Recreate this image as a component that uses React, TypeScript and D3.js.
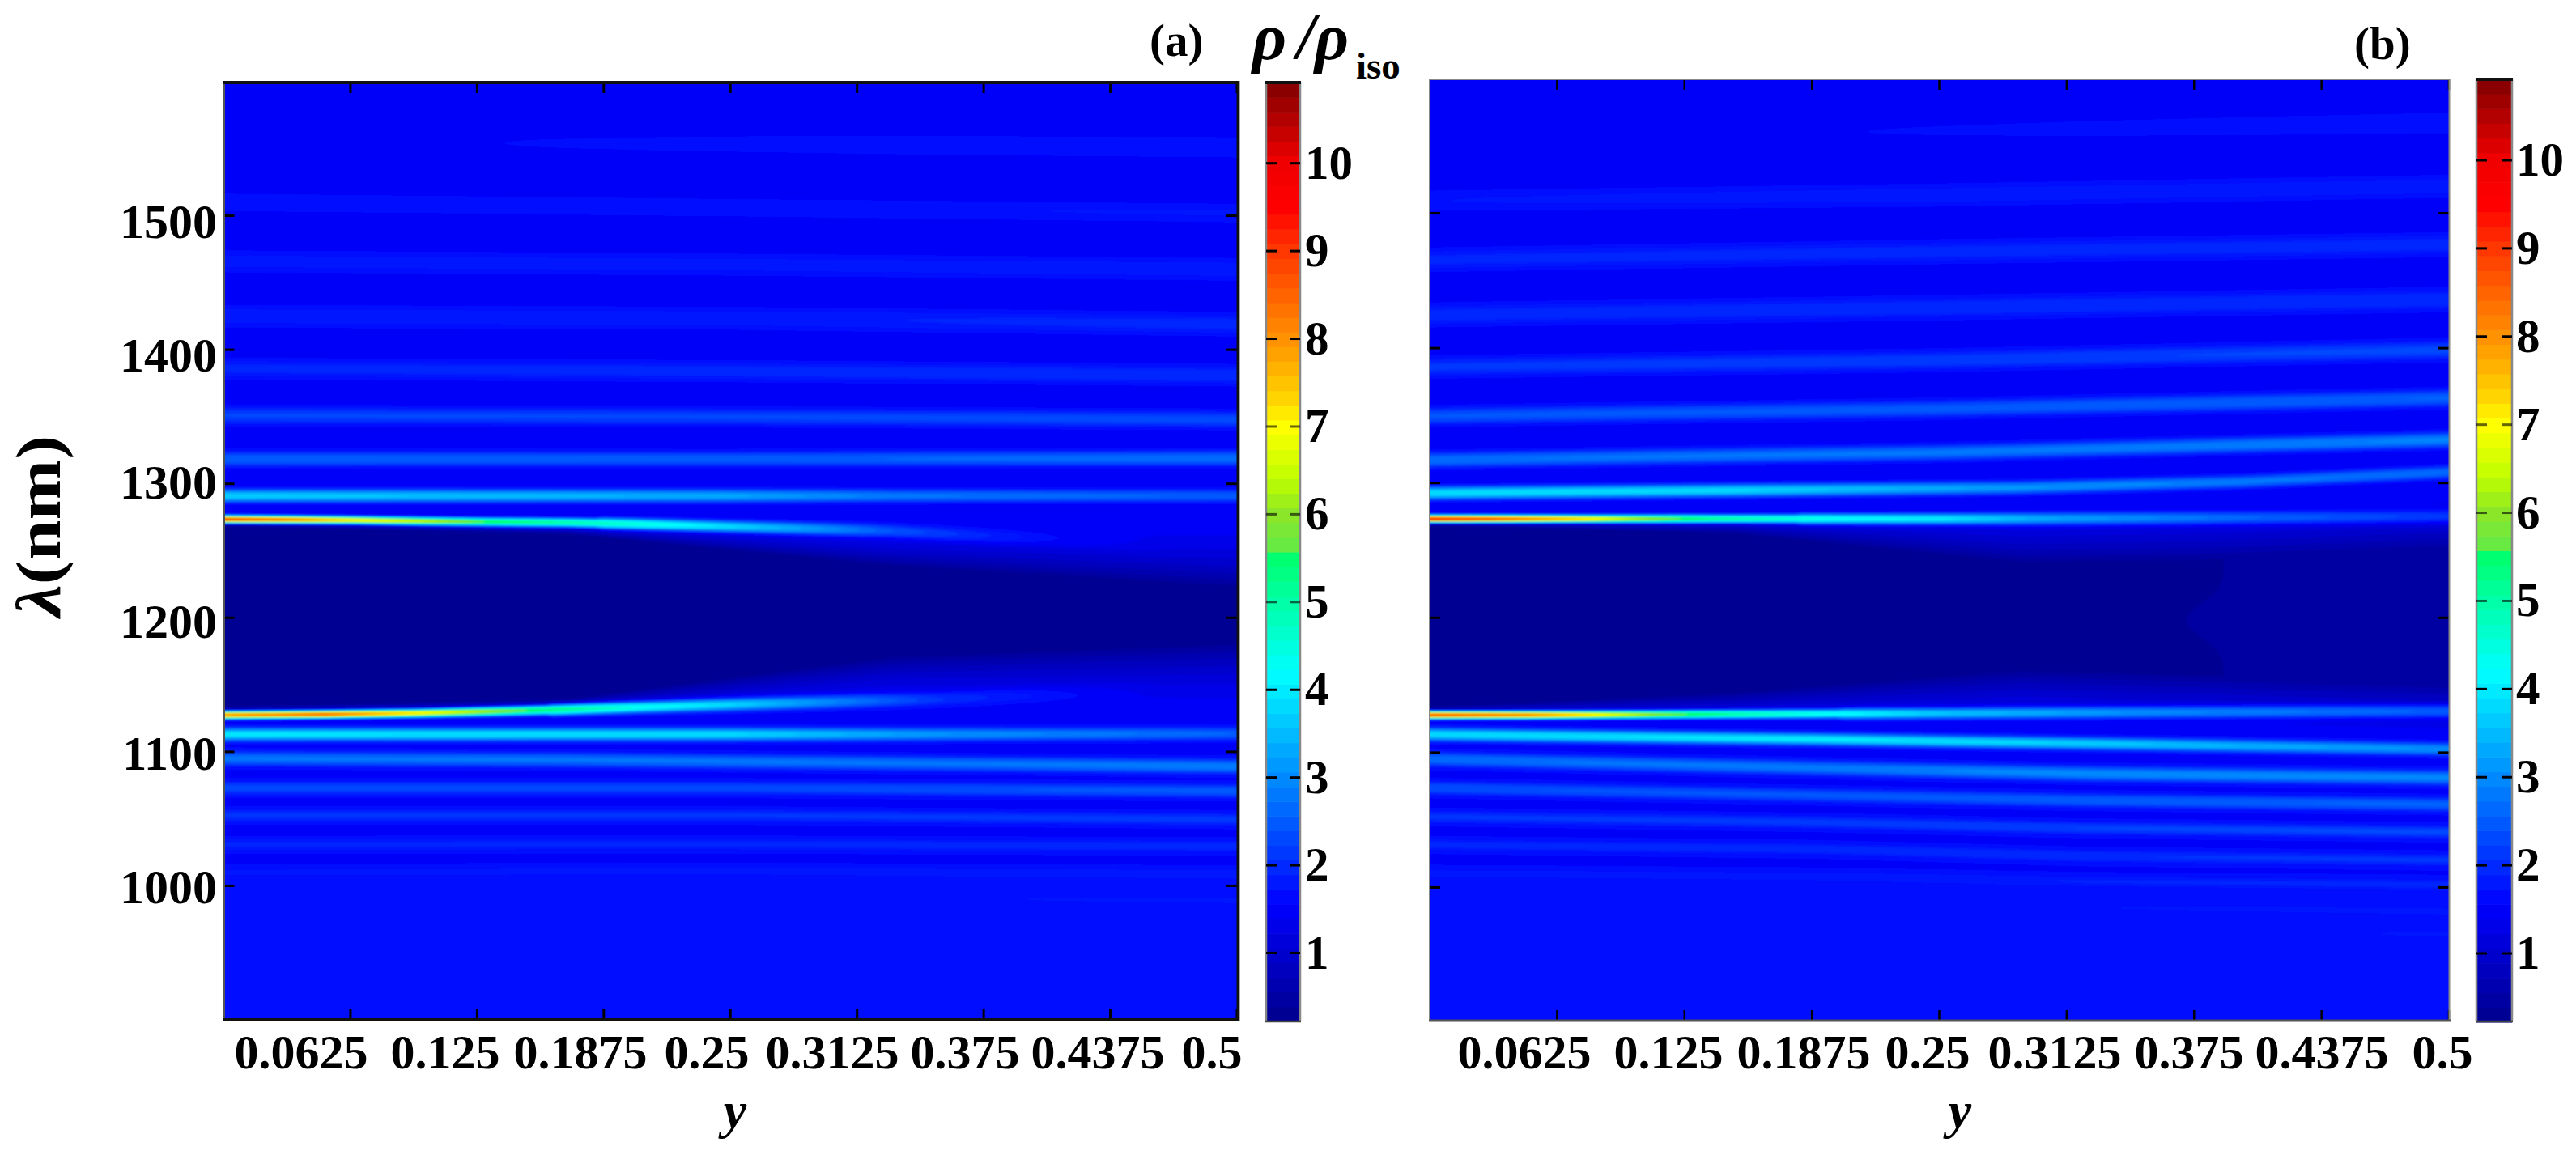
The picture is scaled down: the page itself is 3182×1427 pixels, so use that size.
import React, { useMemo } from "react";
import * as d3 from "d3";

type Band = { at: number[]; lam: number[]; peak: number[]; sd: number[] };

const WIDTH = 3182;
const HEIGHT = 1427;
const SERIF = "'Liberation Serif', 'Times New Roman', serif";

const xTickValues = [0.0625, 0.125, 0.1875, 0.25, 0.3125, 0.375, 0.4375, 0.5];
const xTickLabels = ["0.0625", "0.125", "0.1875", "0.25", "0.3125", "0.375", "0.4375", "0.5"];
const yTickValues = [1000, 1100, 1200, 1300, 1400, 1500];
const barTickValues = [1, 2, 3, 4, 5, 6, 7, 8, 9, 10];
const VALUE_MIN = 0.22;
const VALUE_MAX = 10.92;
const LEVELS = 64;

// colour map of the bars
const mapValues = [0.22, 1.56, 4.2, 5.6, 5.61, 6.0, 6.4, 7.0, 7.3, 8.0, 9.0, 9.5, 10.0, 10.92];
const mapColors = [
  "rgb(0,0,140)", "rgb(0,0,255)", "rgb(0,255,255)", "rgb(0,255,100)", "rgb(100,235,70)",
  "rgb(140,230,40)", "rgb(190,255,0)", "rgb(255,255,0)", "rgb(255,215,0)", "rgb(255,145,0)",
  "rgb(255,55,0)", "rgb(255,0,0)", "rgb(240,0,0)", "rgb(128,0,0)",
];

// background level outside the band gap, by wavelength
const baseLam = [900, 1000, 1100, 1300, 1600];
const baseVal = [1.6, 1.56, 1.5, 1.45, 1.47];

// band gap of panel (a)
const gapAtA = [0, 0.17, 0.33, 0.5];
const gapTopOuterA = [1276, 1272, 1268, 1272];
const gapTopInnerA = [1268, 1262, 1238, 1222];
const gapBotInnerA = [1134, 1140, 1172, 1182];
const gapBotOuterA = [1124, 1126, 1132, 1126];
const gapLowA = [0.28, 0.28, 0.28, 0.3];

// band gap of panel (b)
const gapAtB = [0, 0.15, 0.29, 0.38, 0.5];
const gapTopOuterB = [1276, 1280, 1285, 1289, 1295];
const gapTopInnerB = [1268, 1262, 1240, 1243, 1252];
const gapBotInnerB = [1134, 1145, 1162, 1157, 1150];
const gapBotOuterB = [1124, 1120, 1115, 1110, 1105];
const gapLowB = [0.28, 0.29, 0.3, 0.38, 0.47];
const notchAtB = [0.3, 0.36, 0.45, 0.5];
const notchAmpB = [0, 0.015, 0.015, 0];

const bandsA: Band[] = [
  { at: [0, 0.25, 0.35, 0.5], lam: [1555, 1553.5, 1552.5, 1551], peak: [1.48, 1.62, 1.68, 1.72], sd: [5] },
  { at: [0, 0.25, 0.5], lam: [1510, 1506, 1502], peak: [1.7, 1.7, 1.74], sd: [4.5] },
  { at: [0, 0.25, 0.5], lam: [1466, 1463.5, 1460], peak: [1.8, 1.8, 1.84], sd: [5] },
  { at: [0, 0.25, 0.5], lam: [1425, 1423.5, 1419], peak: [1.85, 1.85, 1.97], sd: [5] },
  { at: [0, 0.25, 0.5], lam: [1386, 1384, 1381], peak: [1.94, 1.98, 2.03], sd: [4.5] },
  { at: [0, 0.25, 0.5], lam: [1351, 1350, 1348], peak: [2.25, 2.25, 2.3], sd: [4] },
  { at: [0, 0.25, 0.5], lam: [1318.5, 1318.5, 1319], peak: [2.55, 2.5, 2.7], sd: [3.6] },
  { at: [0, 0.17, 0.25, 0.33, 0.38, 0.5], lam: [1291, 1291, 1291, 1291, 1291, 1291], peak: [3.7, 3.45, 3.3, 2.8, 2.7, 2.5], sd: [3] },
  { at: [0, 0.03, 0.0625, 0.1, 0.13, 0.17, 0.2, 0.25, 0.3, 0.33, 0.41, 0.5], lam: [1273.4, 1273.2, 1272.8, 1272, 1271.5, 1271, 1270, 1268, 1266, 1264.6, 1258, 1250], peak: [8.8, 8.3, 7.2, 6.4, 5.55, 5.0, 4.6, 3.8, 3.0, 2.4, 1.55, 1.1], sd: [1.9, 1.9, 1.9, 2, 2.1, 2.3, 2.5, 2.7, 3, 3.2, 3.6, 3.9] },
  { at: [0, 0.05, 0.096, 0.16, 0.207, 0.255, 0.35, 0.42, 0.5], lam: [1127.5, 1128, 1128.9, 1131.3, 1133.5, 1135.6, 1139.4, 1143.8, 1148.6], peak: [8.0, 8.5, 7.1, 5.3, 4.3, 3.7, 2.1, 1.55, 1.05], sd: [1.9, 1.9, 2, 2.4, 2.7, 3, 3.4, 3.7, 3.9] },
  { at: [0, 0.25, 0.35, 0.5], lam: [1113, 1113, 1113, 1113.5], peak: [3.95, 3.8, 3.1, 2.55], sd: [3] },
  { at: [0, 0.17, 0.37, 0.5], lam: [1095, 1094, 1091, 1089], peak: [2.75, 2.75, 2.75, 2.85], sd: [3.4] },
  { at: [0, 0.25, 0.5], lam: [1073, 1073, 1070.7], peak: [2.28, 2.28, 2.48], sd: [3.2] },
  { at: [0, 0.25, 0.5], lam: [1052.6, 1052.6, 1049.5], peak: [2.08, 2.08, 2.13], sd: [3] },
  { at: [0, 0.25, 0.5], lam: [1030.8, 1031, 1029.5], peak: [1.92, 1.94, 2.0], sd: [2.8] },
  { at: [0, 0.25, 0.5], lam: [1010, 1011, 1008.5], peak: [1.76, 1.78, 1.86], sd: [2.6] },
  { at: [0, 0.1, 0.25, 0.5], lam: [991, 991, 991, 989], peak: [1.6, 1.64, 1.68, 1.76], sd: [2.4] },
  { at: [0, 0.35, 0.5], lam: [971, 971, 970], peak: [1.58, 1.6, 1.7], sd: [2.4] },
];

const bandsB: Band[] = [
  { at: [0, 0.27, 0.5], lam: [1556, 1561.7, 1567], peak: [1.47, 1.58, 1.72], sd: [5] },
  { at: [0, 0.25, 0.5], lam: [1509.3, 1513.5, 1520], peak: [1.72, 1.84, 1.84], sd: [5] },
  { at: [0, 0.25, 0.5], lam: [1465.5, 1471.5, 1476.8], peak: [1.94, 1.98, 1.98], sd: [5] },
  { at: [0, 0.25, 0.5], lam: [1424.6, 1430, 1436], peak: [1.98, 2.03, 2.03], sd: [5] },
  { at: [0, 0.25, 0.5], lam: [1386, 1391, 1398.7], peak: [2.1, 2.18, 2.28], sd: [4.5] },
  { at: [0, 0.25, 0.5], lam: [1349.6, 1355, 1363], peak: [2.42, 2.47, 2.57], sd: [4] },
  { at: [0, 0.25, 0.5], lam: [1317, 1322.5, 1332], peak: [2.72, 2.77, 2.92], sd: [3.6] },
  { at: [0, 0.15, 0.29, 0.4, 0.5], lam: [1292.5, 1294.5, 1296.5, 1301, 1308], peak: [3.9, 3.8, 3.1, 2.8, 2.65], sd: [3] },
  { at: [0, 0.03, 0.075, 0.1, 0.14, 0.2, 0.25, 0.3, 0.4, 0.5], lam: [1273.3, 1273.3, 1273.3, 1273.3, 1273.3, 1273.3, 1273.3, 1273.4, 1274, 1275], peak: [9.2, 8.7, 7.3, 6.3, 5.1, 4.25, 4.0, 3.3, 2.6, 2.1], sd: [1.9, 1.9, 1.9, 2, 2.2, 2.5, 2.6, 2.9, 3.1, 3.3] },
  { at: [0, 0.05, 0.075, 0.11, 0.15, 0.2, 0.25, 0.35, 0.5], lam: [1128, 1128, 1128.1, 1128.3, 1128.6, 1128.9, 1129.2, 1130, 1131], peak: [8.6, 8.1, 7.3, 6.0, 5.0, 4.25, 3.6, 3.0, 2.5], sd: [1.9, 1.9, 1.9, 2, 2.2, 2.4, 2.6, 2.9, 3.1] },
  { at: [0, 0.19, 0.32, 0.5], lam: [1113.5, 1109.9, 1106.8, 1102.5], peak: [3.8, 4.0, 3.7, 3.0], sd: [3, 2.8, 2.8, 3] },
  { at: [0, 0.19, 0.32, 0.5], lam: [1095.2, 1088.6, 1084.4, 1081.4], peak: [2.7, 2.8, 3.0, 2.95], sd: [3.4] },
  { at: [0, 0.19, 0.32, 0.5], lam: [1073.8, 1068.4, 1064.6, 1061.5], peak: [2.38, 2.43, 2.53, 2.58], sd: [3.2] },
  { at: [0, 0.19, 0.32, 0.5], lam: [1052.5, 1048.3, 1044, 1041], peak: [2.08, 2.13, 2.23, 2.28], sd: [3] },
  { at: [0, 0.19, 0.32, 0.5], lam: [1031.7, 1028.5, 1023.3, 1020.3], peak: [1.95, 2.0, 2.05, 2.1], sd: [2.8] },
  { at: [0, 0.19, 0.32, 0.5], lam: [1010.4, 1008.2, 1004.4, 1002], peak: [1.78, 1.82, 1.9, 1.95], sd: [2.6] },
  { at: [0, 0.19, 0.32, 0.5], lam: [991, 988.2, 985.2, 982.2], peak: [1.58, 1.65, 1.72, 1.78], sd: [2.4] },
  { at: [0, 0.3, 0.4, 0.5], lam: [968, 967, 966, 965.4], peak: [1.58, 1.6, 1.66, 1.76], sd: [2.4] },
];

const colorOf = d3.scaleLinear<string>().domain(mapValues).range(mapColors).interpolate(d3.interpolateRgb).clamp(true);
const levelStep = (VALUE_MAX - VALUE_MIN) / LEVELS;
const levelValues = d3.range(LEVELS).map((i) => VALUE_MIN + i * levelStep);
const levelColor = (t: number) => colorOf(t + levelStep / 2);

const tbl = (xs: number[], ys: number[]) => d3.scaleLinear().domain(xs).range(ys).clamp(true);
const riseFast = (t: number) => {
  const u = Math.max(0, Math.min(1, t));
  return 1 - Math.pow(1 - u, 1.8);
};

type Gap = { at: number[]; topOuter: number[]; topInner: number[]; botInner: number[]; botOuter: number[]; low: number[]; notchAt?: number[]; notchAmp?: number[] };

function buildPaths(bands: Band[], gap: Gap, xS: any, yS: any) {
  const NX = 126;
  const lamTop = 1606;
  const lamBot = 894;
  const dL = 0.5;
  const NY = Math.round((lamTop - lamBot) / dL);
  const y0 = -0.006;
  const dY = (0.506 + 0.006) / NX;
  const values = new Float64Array(NX * NY);

  const tO = tbl(gap.at, gap.topOuter), tI = tbl(gap.at, gap.topInner);
  const bI = tbl(gap.at, gap.botInner), bO = tbl(gap.at, gap.botOuter), lo = tbl(gap.at, gap.low);
  const baseS = tbl(baseLam, baseVal);
  const notch = gap.notchAt && gap.notchAmp ? tbl(gap.notchAt, gap.notchAmp) : null;
  const tables = bands.map((b) => ({
    lam: tbl(b.at, b.lam),
    peak: tbl(b.at, b.peak),
    sd: b.sd.length > 1 ? tbl(b.at, b.sd) : () => b.sd[0],
  }));

  for (let i = 0; i < NX; i++) {
    const y = y0 + (i + 0.5) * dY;
    const a = tO(y), b = tI(y), c = bI(y), d = bO(y), low = lo(y), na = notch ? notch(y) : 0;
    const floorAt = (l: number) => {
      const base = baseS(l);
      if (l >= a || l <= d) return base;
      if (l >= c && l <= b) return low;
      const t = l > b ? riseFast((l - b) / (a - b)) : riseFast((c - l) / (c - d));
      return low + (base - low) * t;
    };
    const now = tables.map((t) => {
      const lam = t.lam(y);
      const s = t.sd(y) as number;
      return { lam, sd: s >= 2.4 ? s * 1.15 : s, amp: Math.max(0, t.peak(y) - floorAt(lam)) };
    });
    for (let j = 0; j < NY; j++) {
      const l = lamTop - (j + 0.5) * dL;
      let v = floorAt(l);
      if (na) {
        const n = (l - 1198) / 12;
        v += na * Math.exp(-0.5 * n * n);
      }
      for (const s of now) {
        const z = Math.abs(l - s.lam) / s.sd;
        if (z < 5) v += s.amp * Math.exp(-0.5 * Math.pow(z, 2.4));
      }
      values[j * NX + i] = v;
    }
  }

  const contours = d3.contours().size([NX, NY]).thresholds(levelValues).smooth(true)(values as any);
  const proj = d3.geoTransform({
    point(px: number, py: number) {
      (this as any).stream.point(xS(y0 + px * dY), yS(lamTop - py * dL));
    },
  });
  const path = d3.geoPath(proj);
  return contours.filter((c) => c.coordinates.length > 0).map((c) => ({ t: c.value, d: path(c as any) || "" }));
}

function Heatmap({ id, bands, gap, xS, yS, clip }: any) {
  const paths = useMemo(() => buildPaths(bands, gap, xS, yS), []);
  return (
    <g clipPath={`url(#${id})`}>
      <defs>
        <clipPath id={id}>
          <rect x={clip[0]} y={clip[1]} width={clip[2] - clip[0]} height={clip[3] - clip[1]} />
        </clipPath>
      </defs>
      <g filter="url(#soft)">
        {paths.map((p) => (
          <path key={p.t} d={p.d} fill={levelColor(p.t)} fillRule="evenodd" />
        ))}
      </g>
    </g>
  );
}

function Frame({ xS, yS, x0, x1, y0, y1, tickW, frame }: any) {
  return (
    <g stroke="#000" fill="none">
      {xTickValues.map((v) => (
        <g key={v} strokeWidth={tickW}>
          <line x1={xS(v)} x2={xS(v)} y1={y1} y2={y1 - 13} />
          <line x1={xS(v)} x2={xS(v)} y1={y0} y2={y0 + 13} />
        </g>
      ))}
      {yTickValues.map((v) => (
        <g key={v} strokeWidth={3}>
          <line x1={x0} x2={x0 + 13} y1={yS(v)} y2={yS(v)} />
          <line x1={x1} x2={x1 - 13} y1={yS(v)} y2={yS(v)} />
        </g>
      ))}
      {frame}
    </g>
  );
}

function ColorBar({ x0, x1, barS, top, bottom, labelX, blackTop }: any) {
  return (
    <g>
      {levelValues.map((t) => (
        <rect key={t} x={x0} width={x1 - x0} y={barS(t + levelStep)} height={barS(t) - barS(t + levelStep) + 0.6} fill={levelColor(t)} />
      ))}
      <g stroke="#888" strokeWidth={2.5} fill="none">
        <line x1={x0} x2={x0} y1={top} y2={bottom} />
        <line x1={x1} x2={x1} y1={top} y2={bottom} />
      </g>
      <line x1={x0 - 1} x2={x1 + 1} y1={top + 1} y2={top + 1} stroke="#111" strokeWidth={blackTop} />
      <line x1={x0 - 1} x2={x1 + 1} y1={bottom} y2={bottom} stroke="#444" strokeWidth={2.5} />
      {barTickValues.map((v) => (
        <g key={v}>
          <g stroke="#000" strokeOpacity={v === 5 || v === 6 || v === 7 ? 0.6 : 1} strokeWidth={3}>
            <line x1={x0} x2={x0 + 13} y1={barS(v)} y2={barS(v)} />
            <line x1={x1} x2={x1 - 13} y1={barS(v)} y2={barS(v)} />
          </g>
          <text x={labelX} y={barS(v) + 19} fontFamily={SERIF} fontWeight="bold" fontSize={59} fill="#000">{v}</text>
        </g>
      ))}
    </g>
  );
}

const xLabelCentersA = [372, 550, 717, 873, 1028, 1192, 1356, 1497];
const xLabelCentersB = [1883, 2061, 2228, 2381, 2538, 2704, 2868, 3017];
const yLabelNudge = [22, 22, 25, 18, 27, 27];

export default function App() {
  const xA = d3.scaleLinear().domain([0, 0.5]).range([276.5, 1528]);
  const yA = d3.scaleLinear().domain([900, 1600]).range([1260, 101]);
  const xB = d3.scaleLinear().domain([0, 0.5]).range([1766, 3025]);
  const yB = d3.scaleLinear().domain([900, 1600]).range([1263, 97]);
  const barA = d3.scaleLinear().domain([1, 10]).range([1177.5, 201.7]);
  const barB = d3.scaleLinear().domain([1, 10]).range([1178, 198]);
  const gapA: Gap = { at: gapAtA, topOuter: gapTopOuterA, topInner: gapTopInnerA, botInner: gapBotInnerA, botOuter: gapBotOuterA, low: gapLowA };
  const gapB: Gap = { at: gapAtB, topOuter: gapTopOuterB, topInner: gapTopInnerB, botInner: gapBotInnerB, botOuter: gapBotOuterB, low: gapLowB, notchAt: notchAtB, notchAmp: notchAmpB };

  return (
    <svg width={WIDTH} height={HEIGHT} viewBox={`0 0 ${WIDTH} ${HEIGHT}`} style={{ position: "absolute", left: 0, top: 0, background: "#fff" }}>
      <defs>
        <filter id="soft" x="-1%" y="-1%" width="102%" height="102%">
          <feGaussianBlur stdDeviation="1.1" />
        </filter>
      </defs>

      <Heatmap id="clipA" bands={bandsA} gap={gapA} xS={xA} yS={yA} clip={[276, 101, 1528, 1260]} />
      <Heatmap id="clipB" bands={bandsB} gap={gapB} xS={xB} yS={yB} clip={[1766, 98, 3025, 1262]} />

      <Frame
        xS={xA} yS={yA} x0={276.5} x1={1528} y0={102} y1={1260} tickW={3}
        frame={
          <g>
            <line x1={276.5} x2={276.5} y1={100} y2={1262} stroke="#555" strokeWidth={3} />
            <line x1={275} x2={1531} y1={102} y2={102} stroke="#111" strokeWidth={4} />
            <line x1={275} x2={1531} y1={1260} y2={1260} stroke="#111" strokeWidth={4} />
            <line x1={1529} x2={1529} y1={100} y2={1262} stroke="#111" strokeWidth={3} />
            <line x1={1531} x2={1531} y1={100} y2={1262} stroke="#aaa" strokeWidth={2} />
          </g>
        }
      />
      <Frame
        xS={xB} yS={yB} x0={1766} x1={3025} y0={98} y1={1261} tickW={2.5}
        frame={
          <g>
            <rect x={1766} y={98} width={1259.5} height={1163} stroke="#888" strokeWidth={2} />
            <line x1={1765} x2={3027} y1={1261} y2={1261} stroke="#555" strokeWidth={3} />
          </g>
        }
      />

      <ColorBar x0={1564} x1={1606} barS={barA} top={101} bottom={1262} labelX={1612} blackTop={4} />
      <ColorBar x0={3059} x1={3103} barS={barB} top={97} bottom={1262} labelX={3108} blackTop={4} />

      <g fontFamily={SERIF} fontWeight="bold" fontSize={60} fill="#000">
        {xTickValues.map((v, i) => (
          <g key={v}>
            <text x={xLabelCentersA[i]} y={1320} textAnchor="middle">{xTickLabels[i]}</text>
            <text x={xLabelCentersB[i]} y={1320} textAnchor="middle">{xTickLabels[i]}</text>
          </g>
        ))}
        {yTickValues.map((v, i) => (
          <text key={v} x={268} y={yA(v) + yLabelNudge[i]} textAnchor="end" fontSize={60}>{v}</text>
        ))}
      </g>

      <g fontFamily={SERIF} fontWeight="bold" fill="#000">
        <text x={908} y={1393} textAnchor="middle" fontStyle="italic" fontSize={64}>y</text>
        <text x={2421} y={1393} textAnchor="middle" fontStyle="italic" fontSize={64}>y</text>
        <text transform="translate(74,650) rotate(-90) scale(1.15,1)" textAnchor="middle" fontSize={78}>
          <tspan fontStyle="italic">λ</tspan>(nm)
        </text>
        <text x={1420} y={69} fontSize={57}>(a)</text>
        <text x={2908} y={73} fontSize={57}>(b)</text>
        <text x={1547} y={73} fontStyle="italic" fontSize={82}>ρ</text>
        <text x={1602} y={72} fontStyle="italic" fontSize={80}>/</text>
        <text x={1624} y={73} fontStyle="italic" fontSize={82}>ρ</text>
        <text x={1675} y={97} fontSize={47}>iso</text>
      </g>
    </svg>
  );
}
